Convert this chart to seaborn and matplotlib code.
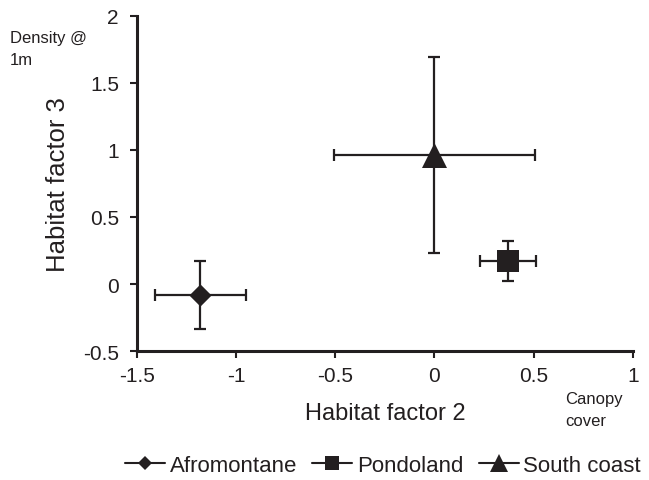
import matplotlib
matplotlib.use("Agg")
import matplotlib.pyplot as plt
from matplotlib.lines import Line2D
import seaborn as sns
import pandas as pd

sites = ["Afromontane", "Pondoland", "South coast"]
hf2 = [-1.18, 0.37, 0.00]
hf3 = [-0.08, 0.17, 0.965]
hf2_err = [0.23, 0.14, 0.505]
hf3_err = [0.255, 0.15, 0.73]
x_ticks = [-1.5, -1, -0.5, 0, 0.5, 1]
y_ticks = [-0.5, 0, 0.5, 1, 1.5, 2]
x_tick_labels = ["-1.5", "-1", "-0.5", "0", "0.5", "1"]
y_tick_labels = ["-0.5", "0", "0.5", "1", "1.5", "2"]

df = pd.DataFrame({"site": sites, "hf2": hf2, "hf3": hf3})

sns.set_style("white")
plt.rcParams["font.family"] = ["Liberation Sans", "DejaVu Sans"]
col = "#231f20"
markers = {"Afromontane": "D", "Pondoland": "s", "South coast": "^"}
sizes = {"Afromontane": 11.3, "Pondoland": 16.5, "South coast": 18}
leg_sizes = {"Afromontane": 7.5, "Pondoland": 10, "South coast": 12.5}

fig = plt.figure(figsize=(6.49, 4.81), dpi=100)
ax = fig.add_axes([0.211, 0.268, 0.764, 0.697])

ax.errorbar(hf2, hf3, xerr=hf2_err, yerr=hf3_err, fmt="none", ecolor=col,
            elinewidth=1.6, capsize=4, capthick=1.6, zorder=2)
for s in sites:
    sub = df[df.site == s]
    sns.scatterplot(data=sub, x="hf2", y="hf3", marker=markers[s], s=sizes[s] ** 2,
                    color=col, edgecolor=col, linewidth=0, ax=ax, zorder=3, legend=False)

ax.set_xlim(-1.5, 1)
ax.set_ylim(-0.5, 2)
ax.set_xticks(x_ticks)
ax.set_xticklabels(x_tick_labels)
ax.set_yticks(y_ticks)
ax.set_yticklabels(y_tick_labels)
for side in ["top", "right"]:
    ax.spines[side].set_visible(False)
for side in ["left", "bottom"]:
    ax.spines[side].set_color(col)
    ax.spines[side].set_linewidth(2.2)
ax.tick_params(axis="both", direction="out", length=5, width=1.5, color=col,
               labelsize=15, labelcolor=col, left=True, bottom=True)
ax.tick_params(axis="y", pad=8)
ax.tick_params(axis="x", pad=6)
ax.set_xlabel("Habitat factor 2", fontsize=17, color=col, labelpad=12)
ax.set_ylabel("Habitat factor 3", fontsize=18.5, color=col, labelpad=9)

fig.text(10 / 649, 1 - 31 / 481, "Density @\n1m", fontsize=12, color=col,
         va="top", ha="left", linespacing=1.55)
fig.text(565 / 649, 1 - 392 / 481, "Canopy\ncover", fontsize=12, color=col,
         va="top", ha="left", linespacing=1.55)

handles = [Line2D([0], [0], color=col, lw=1.5, marker=markers[s],
                  markersize=leg_sizes[s], markerfacecolor=col, markeredgecolor=col,
                  markeredgewidth=0)
           for s in sites]
fig.legend(handles, sites, loc="center", bbox_to_anchor=(383 / 649, 1 - 466 / 481),
           ncol=3, frameon=False, fontsize=16, handlelength=1.8, handletextpad=0.2,
           columnspacing=0.7, labelcolor=col)

fig.savefig("out.png", dpi=100)
